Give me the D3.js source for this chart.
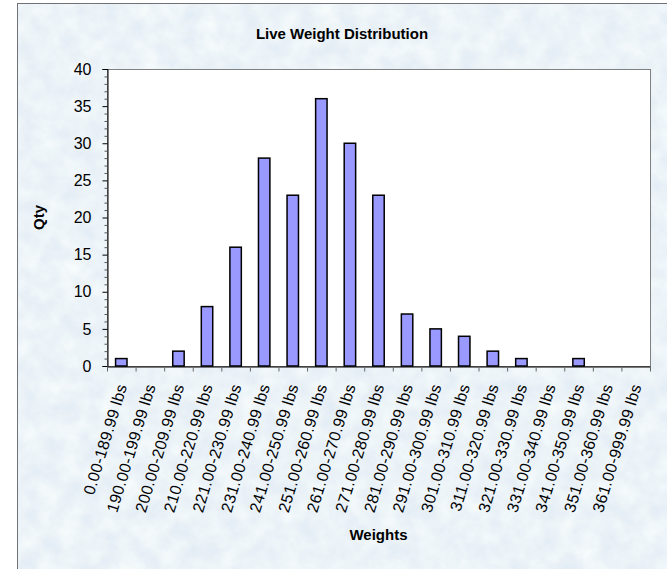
<!DOCTYPE html>
<html lang="en">
<head>
<meta charset="utf-8">
<script src="https://cdn.jsdelivr.net/npm/d3@7"></script>
<style>
  body { margin: 0; background: #fff; }
  text { font-family: "Liberation Sans", Arial, sans-serif; fill: #000; }
</style>
</head>
<body>
<script>
  var categories = ["0.00-189.99 lbs", "190.00-199.99 lbs", "200.00-209.99 lbs", "210.00-220.99 lbs",
    "221.00-230.99 lbs", "231.00-240.99 lbs", "241.00-250.99 lbs", "251.00-260.99 lbs",
    "261.00-270.99 lbs", "271.00-280.99 lbs", "281.00-290.99 lbs", "291.00-300.99 lbs",
    "301.00-310.99 lbs", "311.00-320.99 lbs", "321.00-330.99 lbs", "331.00-340.99 lbs",
    "341.00-350.99 lbs", "351.00-360.99 lbs", "361.00-999.99 lbs"];
  var qty = [1, 0, 2, 8, 16, 28, 23, 36, 30, 23, 7, 5, 4, 2, 1, 0, 1, 0, 0];
  var yTicks = [0, 5, 10, 15, 20, 25, 30, 35, 40];

  var w = 667, h = 569;
  var padding = { left: 107, right: 17, top: 69, bottom: 203 };

  var svg = d3.select("body").append("svg")
    .attr("width", w)
    .attr("height", h);

  // mottled paper texture for the chart area
  var defs = svg.append("defs");
  var filt = defs.append("filter").attr("id", "paper")
    .attr("x", 0).attr("y", 0).attr("width", "100%").attr("height", "100%");
  filt.append("feTurbulence")
    .attr("type", "fractalNoise")
    .attr("baseFrequency", 0.05)
    .attr("numOctaves", 4)
    .attr("seed", 7);
  filt.append("feColorMatrix")
    .attr("values", "0.22 0 0 0 0.73  0.16 0 0 0 0.82  0.08 0 0 0 0.9  0 0 0 0 1");
  filt.append("feComposite").attr("in2", "SourceGraphic").attr("operator", "in");

  svg.append("rect")
    .attr("x", 18).attr("y", 4)
    .attr("width", w).attr("height", h)
    .style("fill", "#d9e6f3")
    .attr("filter", "url(#paper)");
  svg.append("rect")
    .attr("x", 17.5).attr("y", 3.5)
    .attr("width", w).attr("height", h)
    .style("fill", "none")
    .style("stroke", "#6f7378");

  var xScale = d3.scaleBand()
    .domain(categories)
    .range([padding.left, w - padding.right])
    .paddingInner(0.6)
    .paddingOuter(0.3);

  var yScale = d3.scaleLinear()
    .domain([0, 40])
    .range([h - padding.bottom, padding.top]);

  // plot area
  svg.append("rect")
    .attr("x", padding.left + 0.5)
    .attr("y", padding.top + 0.5)
    .attr("width", w - padding.right - padding.left)
    .attr("height", h - padding.bottom - padding.top)
    .style("fill", "#fff")
    .style("stroke", "#808080");

  svg.selectAll("rect.bar")
    .data(qty)
    .enter()
    .append("rect")
    .attr("class", "bar")
    .attr("x", (d, i) => xScale(categories[i]))
    .attr("y", d => yScale(d))
    .attr("width", xScale.bandwidth())
    .attr("height", d => yScale(0) - yScale(d))
    .style("fill", "#9999ff")
    .style("stroke", "#000")
    .style("stroke-width", 1.5);

  // y axis with minor ticks
  var yAxis = d3.axisLeft(yScale).tickValues(yTicks).tickSize(5).tickPadding(11);
  var gy = svg.append("g")
    .attr("transform", "translate(" + (padding.left + 0.5) + ",0)")
    .call(yAxis);
  gy.selectAll("text").style("font-size", "16px");
  gy.select(".domain").attr("stroke", "#000");
  var minor = d3.range(0, 41).filter(v => v % 5 != 0);
  gy.selectAll("line.minor")
    .data(minor)
    .enter()
    .append("line")
    .attr("class", "minor")
    .attr("x1", -3).attr("x2", 0)
    .attr("y1", d => yScale(d) + 0.5).attr("y2", d => yScale(d) + 0.5)
    .attr("stroke", "#555");

  // x axis
  var xAxis = d3.axisBottom(xScale).tickSize(0).tickFormat("");
  var gx = svg.append("g")
    .attr("transform", "translate(0," + (h - padding.bottom + 0.5) + ")")
    .call(xAxis);
  gx.select(".domain").attr("stroke", "#000");
  var step = (w - padding.right - padding.left) / categories.length;
  gx.selectAll("line.xt")
    .data(d3.range(categories.length + 1))
    .enter()
    .append("line")
    .attr("class", "xt")
    .attr("x1", i => padding.left + 0.5 + i * step)
    .attr("x2", i => padding.left + 0.5 + i * step)
    .attr("y1", 0).attr("y2", 5)
    .attr("stroke", "#666");

  svg.selectAll("text.xlabel")
    .data(categories)
    .enter()
    .append("text")
    .attr("class", "xlabel")
    .attr("text-anchor", "end")
    .attr("transform", d => "translate(" + (xScale(d) + xScale.bandwidth() / 2 + 6) + "," + (h - padding.bottom + 20) + ") rotate(-73)")
    .style("font-size", "16px")
    .style("letter-spacing", "0.3px")
    .text(d => d);

  svg.append("text")
    .attr("x", 342)
    .attr("y", 39)
    .attr("text-anchor", "middle")
    .style("font-size", "15px")
    .style("font-weight", "bold")
    .text("Live Weight Distribution");

  svg.append("text")
    .attr("x", (padding.left + w - padding.right) / 2)
    .attr("y", 540)
    .attr("text-anchor", "middle")
    .style("font-size", "15px")
    .style("font-weight", "bold")
    .text("Weights");

  svg.append("text")
    .attr("transform", "translate(44," + ((padding.top + h - padding.bottom) / 2) + ") rotate(-90)")
    .attr("text-anchor", "middle")
    .style("font-size", "15px")
    .style("font-weight", "bold")
    .text("Qty");
</script>
</body>
</html>
